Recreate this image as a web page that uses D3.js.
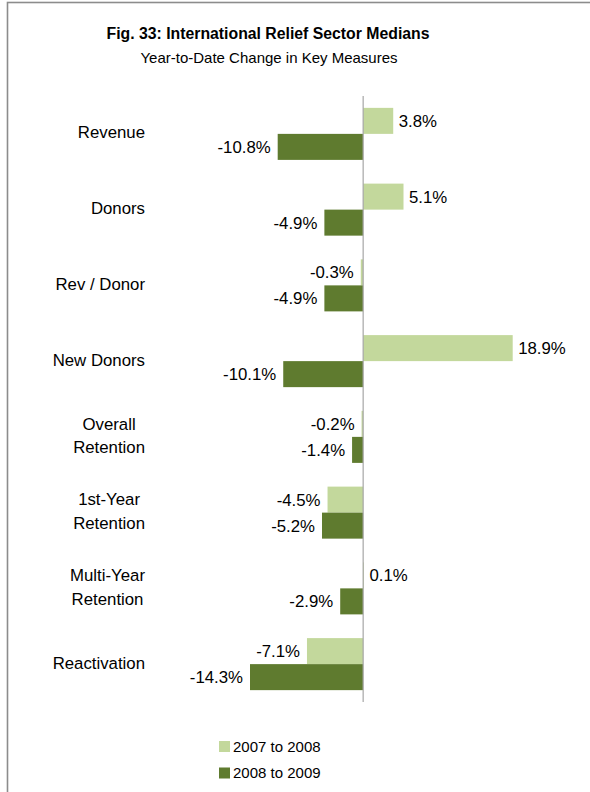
<!DOCTYPE html>
<html>
<head>
<meta charset="utf-8">
<script src="https://cdn.jsdelivr.net/npm/d3@7"></script>
<style>
  html, body { margin: 0; padding: 0; background: #fff; }
  svg { display: block; font-family: "Liberation Sans", Arial, sans-serif; }
</style>
</head>
<body>
<svg id="chart" width="590" height="792"></svg>
<script>
// Year-to-date change in key measures, international relief sector medians (%)
const categories = [
  ["Revenue"],
  ["Donors"],
  ["Rev / Donor"],
  ["New Donors"],
  ["Overall", "Retention"],
  ["1st-Year", "Retention"],
  ["Multi-Year", "Retention"],
  ["Reactivation"]
];
const seriesNames = ["2007 to 2008", "2008 to 2009"];
const values0708 = [3.8, 5.1, -0.3, 18.9, -0.2, -4.5, 0.1, -7.1];
const values0809 = [-10.8, -4.9, -4.9, -10.1, -1.4, -5.2, -2.9, -14.3];
const seriesColors = ["#c3d89c", "#5f7b2f"];

const title = "Fig. 33: International Relief Sector Medians";
const subtitle = "Year-to-Date Change in Key Measures";

const svg = d3.select("#chart");
const keys = categories.map(c => c.join(" "));
const seriesValues = [values0708, values0809];

// outer frame
svg.append("rect")
  .attr("x", 7.5).attr("y", 2.5)
  .attr("width", 620).attr("height", 820)
  .attr("fill", "none")
  .attr("stroke", "#8c8c8c")
  .attr("stroke-width", 1.6);

// titles
svg.append("text")
  .attr("x", 268).attr("y", 39)
  .attr("text-anchor", "middle")
  .attr("font-size", 15.8).attr("font-weight", "bold")
  .attr("fill", "#000")
  .text(title);
svg.append("text")
  .attr("x", 269).attr("y", 62.5)
  .attr("text-anchor", "middle")
  .attr("font-size", 15)
  .attr("fill", "#000")
  .text(subtitle);

// scales
const x = d3.scaleLinear().domain([-14.3, 18.9]).range([250, 512.7]);
const y = d3.scaleBand().domain(keys).range([96, 702]).padding(0);
const ySeries = d3.scaleBand().domain(seriesNames)
  .range([0, y.bandwidth()]).paddingInner(0).paddingOuter(0.456);

const fmt = v => v.toFixed(1) + "%";
const labelSize = 16.8;

// bars + value labels
seriesNames.forEach((name, si) => {
  const rows = keys.map((k, i) => ({ k, v: seriesValues[si][i] }));
  const g = svg.append("g");
  g.selectAll("rect").data(rows).join("rect")
    .attr("x", d => x(Math.min(0, d.v)))
    .attr("width", d => Math.abs(x(d.v) - x(0)))
    .attr("y", d => y(d.k) + ySeries(name))
    .attr("height", ySeries.bandwidth())
    .attr("fill", seriesColors[si]);
  g.selectAll("text").data(rows).join("text")
    .attr("x", d => d.v >= 0 ? x(d.v) + 5.5 : x(d.v) - 7)
    .attr("y", d => y(d.k) + ySeries(name) + ySeries.bandwidth() / 2 + 6)
    .attr("text-anchor", d => d.v >= 0 ? "start" : "end")
    .attr("font-size", labelSize)
    .attr("fill", "#000")
    .text(d => fmt(d.v));
});

// zero axis line
svg.append("line")
  .attr("x1", x(0)).attr("x2", x(0))
  .attr("y1", 96).attr("y2", 702)
  .attr("stroke", "#a6a6a6")
  .attr("stroke-width", 1.2);

// category labels, right-aligned block, multi-line centered within the block
const labelRight = 145;
const catG = svg.append("g");
categories.forEach((lines, i) => {
  const cy = y(keys[i]) + y.bandwidth() / 2 - 1.5;
  const t = catG.append("text")
    .attr("font-size", labelSize).attr("fill", "#000");
  const lineGap = 23.5;
  lines.forEach((ln, j) => {
    t.append("tspan")
      .attr("y", cy + 6 + (j - (lines.length - 1) / 2) * lineGap)
      .text(ln);
  });
  const widths = [];
  t.selectAll("tspan").each(function () { widths.push(this.getComputedTextLength()); });
  const maxW = d3.max(widths);
  const center = labelRight - maxW / 2;
  t.attr("text-anchor", "middle");
  t.selectAll("tspan").attr("x", center);
});

// legend
const legend = svg.append("g");
seriesNames.forEach((name, i) => {
  const ly = 741 + i * 26.5;
  legend.append("rect")
    .attr("x", 219).attr("y", ly)
    .attr("width", 11).attr("height", 11)
    .attr("fill", seriesColors[i]);
  legend.append("text")
    .attr("x", 233).attr("y", ly + 10.5)
    .attr("font-size", 15)
    .attr("fill", "#000")
    .text(name);
});
</script>
</body>
</html>
